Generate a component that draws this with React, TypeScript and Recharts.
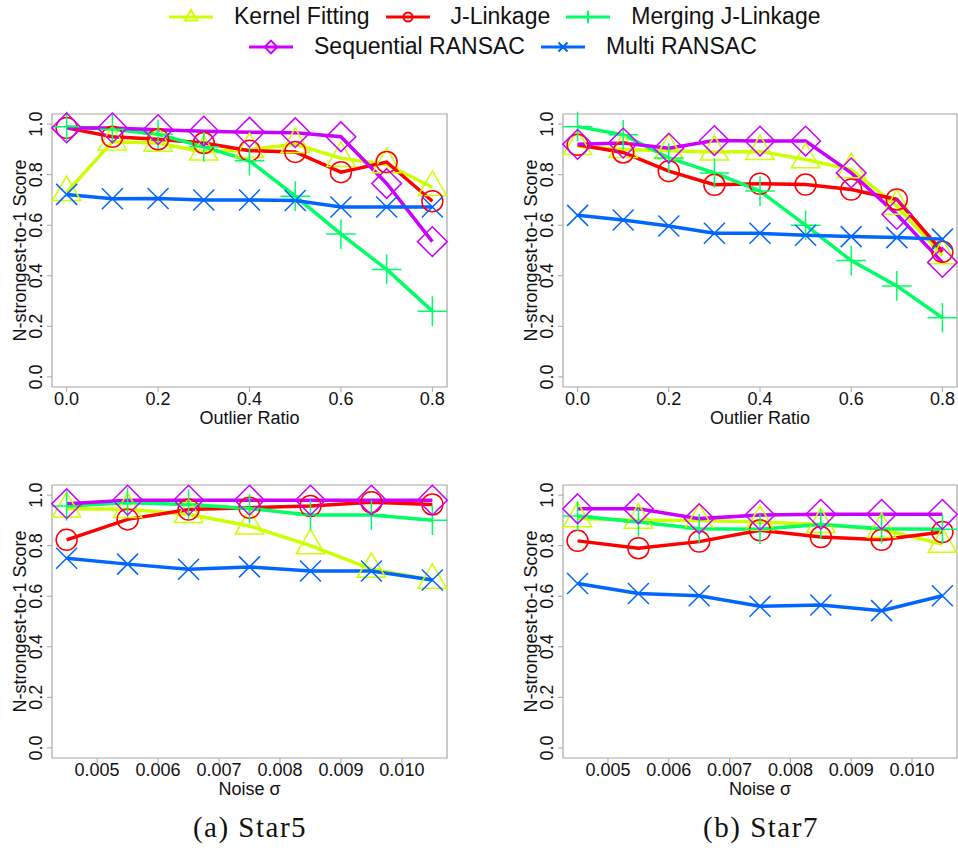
import React from "react";
import { LineChart, Line, XAxis, YAxis, ReferenceArea } from "recharts";

const FONT = '"Liberation Sans", Arial, Helvetica, sans-serif';
const BOX = "#a8a8a8";

// x positions
const outlierRatios = [0, 0.1, 0.2, 0.3, 0.4, 0.5, 0.6, 0.7, 0.8];
const noiseSigmas = [0.0045, 0.0055, 0.0065, 0.0075, 0.0085, 0.0095, 0.0105];

// tick labels
const outlierTicks = [0, 0.2, 0.4, 0.6, 0.8];
const noiseTicks = [0.005, 0.006, 0.007, 0.008, 0.009, 0.01];
const scoreTicks = [0, 0.2, 0.4, 0.6, 0.8, 1.0];

// (a) Star5, outlier ratio
const star5OutKernel = [0.73, 0.93, 0.925, 0.89, 0.9, 0.92, 0.865, 0.84, 0.75];
const star5OutJLink = [0.985, 0.95, 0.94, 0.925, 0.895, 0.89, 0.81, 0.85, 0.695];
const star5OutMerge = [0.99, 0.98, 0.96, 0.91, 0.855, 0.715, 0.565, 0.425, 0.26];
const star5OutSeq = [0.985, 0.985, 0.978, 0.972, 0.968, 0.966, 0.95, 0.765, 0.535];
const star5OutMulti = [0.722, 0.705, 0.706, 0.7, 0.7, 0.698, 0.672, 0.672, 0.672];

// (b) Star7, outlier ratio
const star7OutKernel = [0.912, 0.9, 0.895, 0.89, 0.892, 0.86, 0.82, 0.676, 0.48];
const star7OutJLink = [0.918, 0.888, 0.814, 0.76, 0.764, 0.761, 0.741, 0.702, 0.495];
const star7OutMerge = [0.99, 0.958, 0.866, 0.807, 0.735, 0.6, 0.46, 0.36, 0.234];
const star7OutSeq = [0.92, 0.925, 0.905, 0.935, 0.933, 0.933, 0.807, 0.643, 0.453];
const star7OutMulti = [0.639, 0.621, 0.597, 0.568, 0.568, 0.56, 0.555, 0.551, 0.545];

// (a) Star5, noise
const star5NoiseKernel = [0.946, 0.944, 0.924, 0.878, 0.8, 0.707, 0.664];
const star5NoiseJLink = [0.823, 0.904, 0.943, 0.95, 0.957, 0.972, 0.963];
const star5NoiseMerge = [0.957, 0.97, 0.963, 0.947, 0.921, 0.921, 0.901];
const star5NoiseSeq = [0.966, 0.98, 0.98, 0.98, 0.98, 0.98, 0.98];
const star5NoiseMulti = [0.75, 0.727, 0.707, 0.716, 0.7, 0.7, 0.664];

// (b) Star7, noise
const star7NoiseKernel = [0.907, 0.901, 0.9, 0.894, 0.884, 0.865, 0.806];
const star7NoiseJLink = [0.819, 0.79, 0.816, 0.861, 0.834, 0.823, 0.854];
const star7NoiseMerge = [0.917, 0.894, 0.867, 0.865, 0.884, 0.867, 0.865];
const star7NoiseSeq = [0.946, 0.946, 0.907, 0.921, 0.924, 0.924, 0.924];
const star7NoiseMulti = [0.65, 0.611, 0.602, 0.56, 0.565, 0.543, 0.602];

type Shape = "triangle" | "circle" | "plus" | "diamond" | "cross";

const SERIES: { key: string; name: string; color: string; shape: Shape }[] = [
  { key: "kf", name: "Kernel Fitting", color: "#CCFF00", shape: "triangle" },
  { key: "jl", name: "J-Linkage", color: "#FF0000", shape: "circle" },
  { key: "mjl", name: "Merging J-Linkage", color: "#00FF66", shape: "plus" },
  { key: "sr", name: "Sequential RANSAC", color: "#CC00FF", shape: "diamond" },
  { key: "mr", name: "Multi RANSAC", color: "#0066FF", shape: "cross" },
];

// R-style pch symbols (2, 1, 3, 5, 4)
function Marker({ cx, cy, shape, color, s, w }: { cx: number; cy: number; shape: Shape; color: string; s: number; w: number }) {
  const common = { fill: "none", stroke: color, strokeWidth: w };
  if (shape === "circle") return <circle cx={cx} cy={cy} r={s} {...common} />;
  if (shape === "triangle") {
    const r = 1.555 * s, xc = 1.347 * s, yc = 0.778 * s;
    return <polygon points={`${cx},${cy - r} ${cx + xc},${cy + yc} ${cx - xc},${cy + yc}`} {...common} />;
  }
  if (shape === "plus") {
    const h = 1.414 * s;
    return <path d={`M${cx - h},${cy}H${cx + h}M${cx},${cy - h}V${cy + h}`} {...common} />;
  }
  if (shape === "diamond") {
    const h = 1.414 * s;
    return <polygon points={`${cx},${cy - h} ${cx + h},${cy} ${cx},${cy + h} ${cx - h},${cy}`} {...common} />;
  }
  return <path d={`M${cx - s},${cy - s}L${cx + s},${cy + s}M${cx - s},${cy + s}L${cx + s},${cy - s}`} {...common} />;
}

function XTick(props: any) {
  const { x, y, payload, digits } = props;
  return (
    <text x={x} y={y} dy={12.5} textAnchor="middle" fontSize={18} fill="#111" fontFamily={FONT}>
      {Number(payload.value).toFixed(digits)}
    </text>
  );
}

function YTick(props: any) {
  const { x, y, payload } = props;
  const tx = x - 11;
  return (
    <text x={tx} y={y} transform={`rotate(-90, ${tx}, ${y})`} textAnchor="middle" dominantBaseline="central" fontSize={18} fill="#111" fontFamily={FONT}>
      {Number(payload.value).toFixed(1)}
    </text>
  );
}

interface PanelProps {
  left: number;
  top: number;
  width: number;
  height: number;
  marginTop: number;
  marginLeft: number;
  marginRight: number;
  xs: number[];
  values: Record<string, number[]>;
  xDomain: [number, number];
  xTicks: number[];
  digits: number;
  xTitle: string;
}

function Panel(p: PanelProps) {
  const data = p.xs.map((x, i) => {
    const row: Record<string, number> = { x };
    SERIES.forEach((s) => (row[s.key] = p.values[s.key][i]));
    return row;
  });

  return (
    <div style={{ position: "absolute", left: p.left, top: p.top }}>
      <LineChart
        width={p.width}
        height={p.height}
        data={data}
        margin={{ top: p.marginTop, right: p.marginRight, bottom: 0, left: p.marginLeft }}
        style={{ overflow: "visible" }}
      >
        <XAxis
          type="number"
          dataKey="x"
          domain={p.xDomain}
          ticks={p.xTicks}
          interval={0}
          height={43}
          axisLine={false}
          tickLine={{ stroke: BOX }}
          tickSize={5}
          tickMargin={0}
          tick={(t: any) => <XTick {...t} digits={p.digits} />}
          label={(l: any) => {
            const vb = l.viewBox;
            return (
              <text x={vb.x + vb.width / 2} y={vb.y + 36.5} textAnchor="middle" fontSize={18} fill="#111" fontFamily={FONT}>
                {p.xTitle}
              </text>
            );
          }}
        />
        <YAxis
          type="number"
          domain={[-0.04, 1.04]}
          ticks={scoreTicks}
          interval={0}
          width={40}
          axisLine={false}
          tickLine={{ stroke: BOX }}
          tickSize={5}
          tickMargin={0}
          tick={(t: any) => <YTick {...t} />}
          label={(l: any) => {
            const vb = l.viewBox;
            const tx = vb.x + vb.width - 32;
            const ty = vb.y + vb.height / 2;
            return (
              <text x={tx} y={ty} transform={`rotate(-90, ${tx}, ${ty})`} textAnchor="middle" dominantBaseline="central" fontSize={18} fill="#111" fontFamily={FONT}>
                N-strongest-to-1 Score
              </text>
            );
          }}
        />
        <ReferenceArea x1={p.xDomain[0]} x2={p.xDomain[1]} y1={-0.04} y2={1.04} fill="none" stroke={BOX} strokeWidth={1.2} />
        {SERIES.map((s) => (
          <Line
            key={s.key}
            type="linear"
            dataKey={s.key}
            stroke={s.color}
            strokeWidth={3.5}
            isAnimationActive={false}
            activeDot={false}
            dot={(d: any) => (
              <Marker key={`${s.key}-${d.index}`} cx={d.cx} cy={d.cy} shape={s.shape} color={s.color} s={10.5} w={1.5} />
            )}
          />
        ))}
      </LineChart>
    </div>
  );
}

function LegendItem({ name, color, shape }: { name: string; color: string; shape: Shape }) {
  return (
    <div style={{ display: "flex", alignItems: "center" }}>
      <svg width={44} height={24} style={{ marginRight: 21 }}>
        <line x1={0} y1={12} x2={44} y2={12} stroke={color} strokeWidth={3} />
        <Marker cx={22} cy={12} shape={shape} color={color} s={4.5} w={2} />
      </svg>
      <span style={{ fontFamily: FONT, fontSize: 23, color: "#111", marginRight: 16, whiteSpace: "nowrap" }}>{name}</span>
    </div>
  );
}

const outlierDomain: [number, number] = [-0.032, 0.832];
const noiseDomain: [number, number] = [0.00426, 0.01074];

const captionStyle: React.CSSProperties = {
  position: "absolute",
  width: 220,
  top: 811,
  textAlign: "center",
  fontFamily: '"Liberation Serif", "Times New Roman", serif',
  fontSize: 29,
  letterSpacing: 1.5,
  color: "#111",
};

export default function App() {
  const pick = (k: string) => SERIES.find((s) => s.key === k)!;
  const row1 = ["kf", "jl", "mjl"].map(pick);
  const row2 = ["sr", "mr"].map(pick);

  return (
    <div style={{ position: "absolute", left: 0, top: 0, width: 958, height: 850, background: "#fff", overflow: "hidden" }}>
      <div style={{ position: "absolute", left: 169, top: 3, display: "flex" }}>
        {row1.map((s) => (
          <LegendItem key={s.key} name={s.name} color={s.color} shape={s.shape} />
        ))}
      </div>
      <div style={{ position: "absolute", left: 249, top: 33, display: "flex" }}>
        {row2.map((s) => (
          <LegendItem key={s.key} name={s.name} color={s.color} shape={s.shape} />
        ))}
      </div>

      <Panel
        left={0} top={100} width={480} height={330} marginTop={14} marginLeft={12} marginRight={33}
        xs={outlierRatios}
        values={{ kf: star5OutKernel, jl: star5OutJLink, mjl: star5OutMerge, sr: star5OutSeq, mr: star5OutMulti }}
        xDomain={outlierDomain} xTicks={outlierTicks} digits={1} xTitle="Outlier Ratio"
      />
      <Panel
        left={480} top={100} width={478} height={330} marginTop={14} marginLeft={43} marginRight={1}
        xs={outlierRatios}
        values={{ kf: star7OutKernel, jl: star7OutJLink, mjl: star7OutMerge, sr: star7OutSeq, mr: star7OutMulti }}
        xDomain={outlierDomain} xTicks={outlierTicks} digits={1} xTitle="Outlier Ratio"
      />
      <Panel
        left={0} top={470} width={480} height={331} marginTop={15} marginLeft={12} marginRight={33}
        xs={noiseSigmas}
        values={{ kf: star5NoiseKernel, jl: star5NoiseJLink, mjl: star5NoiseMerge, sr: star5NoiseSeq, mr: star5NoiseMulti }}
        xDomain={noiseDomain} xTicks={noiseTicks} digits={3} xTitle="Noise σ"
      />
      <Panel
        left={480} top={470} width={478} height={331} marginTop={15} marginLeft={43} marginRight={1}
        xs={noiseSigmas}
        values={{ kf: star7NoiseKernel, jl: star7NoiseJLink, mjl: star7NoiseMerge, sr: star7NoiseSeq, mr: star7NoiseMulti }}
        xDomain={noiseDomain} xTicks={noiseTicks} digits={3} xTitle="Noise σ"
      />

      <div style={{ ...captionStyle, left: 140 }}>(a) Star5</div>
      <div style={{ ...captionStyle, left: 651 }}>(b) Star7</div>
    </div>
  );
}
